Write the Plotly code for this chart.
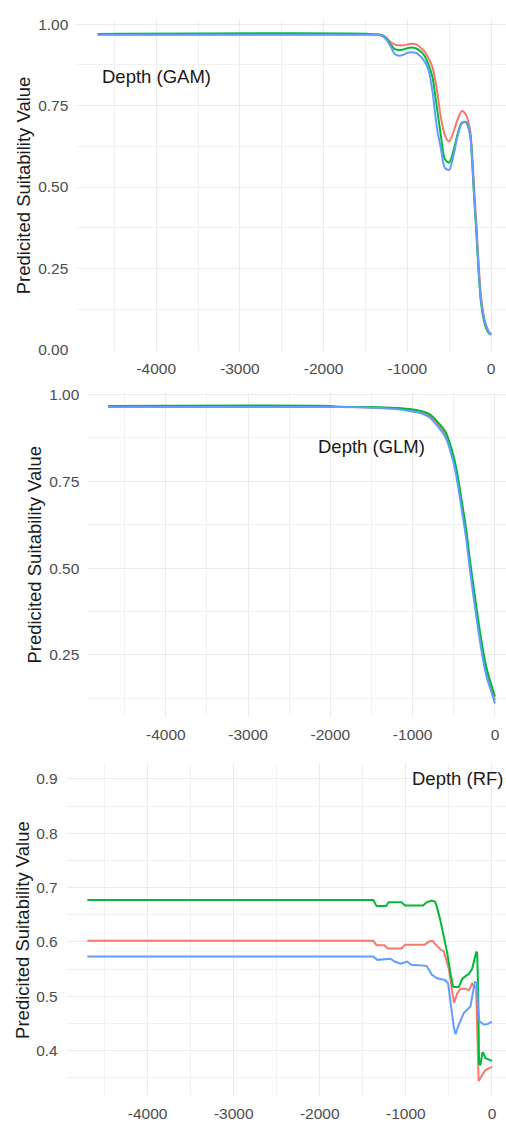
import plotly.graph_objects as go

# ---------------- data ----------------
# GAM panel
gam_depth = [-4700, -1450, -1400, -1350, -1300, -1250, -1200, -1150, -1100, -1050, -1000,
             -950, -900, -850, -800, -750, -700, -650, -600, -550, -500, -450, -400,
             -350, -300, -250, -225, -200, -175, -150, -125, -100, -75, -50, -25, 0]
gam_red = [0.968, 0.968, 0.968, 0.968, 0.966, 0.958, 0.945, 0.937, 0.935, 0.935, 0.937,
           0.940, 0.938, 0.930, 0.918, 0.897, 0.868, 0.805, 0.715, 0.658, 0.640, 0.668, 0.707,
           0.733, 0.722, 0.675, 0.600, 0.490, 0.385, 0.275, 0.180, 0.125, 0.090, 0.070, 0.056, 0.047]
gam_green = [0.970, 0.970, 0.968, 0.968, 0.965, 0.955, 0.938, 0.923, 0.920, 0.922, 0.926,
             0.928, 0.926, 0.918, 0.905, 0.878, 0.838, 0.750, 0.660, 0.585, 0.575, 0.610, 0.662,
             0.697, 0.700, 0.662, 0.578, 0.460, 0.360, 0.248, 0.158, 0.110, 0.080, 0.062, 0.052, 0.047]
gam_blue = [0.967, 0.967, 0.967, 0.967, 0.963, 0.952, 0.932, 0.908, 0.903, 0.906, 0.912,
            0.914, 0.912, 0.903, 0.888, 0.862, 0.795, 0.688, 0.620, 0.558, 0.553, 0.595, 0.655,
            0.695, 0.698, 0.660, 0.580, 0.465, 0.370, 0.255, 0.165, 0.118, 0.088, 0.068, 0.055, 0.047]

# GLM panel
glm_depth = [-4700, -2000, -1900, -1500, -1200, -1000, -900, -800, -700, -600, -500,
             -450, -400, -350, -300, -250, -200, -150, -100, -50, 0]
glm_red = [0.965, 0.965, 0.965, 0.963, 0.960, 0.954, 0.950, 0.940, 0.917, 0.885, 0.810,
           0.750, 0.675, 0.600, 0.500, 0.415, 0.330, 0.255, 0.197, 0.158, 0.120]
glm_green = [0.967, 0.967, 0.965, 0.964, 0.961, 0.957, 0.953, 0.944, 0.922, 0.892, 0.820,
             0.762, 0.688, 0.612, 0.515, 0.430, 0.345, 0.270, 0.210, 0.168, 0.130]
glm_blue = [0.964, 0.964, 0.964, 0.962, 0.958, 0.951, 0.946, 0.935, 0.910, 0.876, 0.800,
            0.738, 0.662, 0.585, 0.487, 0.400, 0.316, 0.243, 0.185, 0.148, 0.110]

# RF panel
rf_red_depth = [-4700, -1380, -1340, -1250, -1210, -1050, -1010, -780, -730, -690, -654,
                -596, -560, -500, -462, -440, -404, -365, -308, -269, -231, -205, -185,
                -175, -165, -155, -135, -77, 0]
rf_red = [0.602, 0.602, 0.594, 0.594, 0.588, 0.588, 0.595, 0.595, 0.601, 0.602, 0.595,
          0.586, 0.583, 0.550, 0.508, 0.488, 0.505, 0.514, 0.514, 0.511, 0.523, 0.517, 0.520,
          0.460, 0.440, 0.344, 0.349, 0.364, 0.370]
rf_green_depth = [-4700, -1380, -1340, -1230, -1200, -1050, -1010, -800, -760, -700, -660,
                  -640, -600, -565, -520, -480, -450, -385, -346, -300, -269, -231, -192,
                  -182, -172, -160, -150, -135, -110, -96, -75, -40, 0]
rf_green = [0.677, 0.677, 0.666, 0.666, 0.673, 0.673, 0.667, 0.667, 0.673, 0.676, 0.674,
            0.665, 0.640, 0.612, 0.580, 0.540, 0.517, 0.517, 0.532, 0.538, 0.541, 0.550, 0.575,
            0.582, 0.580, 0.510, 0.376, 0.373, 0.397, 0.394, 0.386, 0.383, 0.381]
rf_blue_depth = [-4700, -1380, -1330, -1180, -1130, -1060, -985, -934, -760, -700, -640,
                 -546, -510, -481, -442, -423, -385, -327, -250, -200, -175, -162, -146,
                 -96, -50, 0]
rf_blue = [0.573, 0.573, 0.567, 0.569, 0.564, 0.560, 0.564, 0.558, 0.556, 0.540, 0.533,
           0.530, 0.524, 0.487, 0.442, 0.430, 0.448, 0.469, 0.481, 0.526, 0.526, 0.478, 0.454,
           0.448, 0.449, 0.453]

x_ticks = [-4000, -3000, -2000, -1000, 0]
x_tick_labels = ["-4000", "-3000", "-2000", "-1000", "0"]
panel_labels = ["Depth (GAM)", "Depth (GLM)", "Depth (RF)"]
y_title = "Predicited Suitability Value"

RED, GREEN, BLUE = "#F8766D", "#00BA38", "#619CFF"

# ---------------- figure ----------------
W, H = 506, 1129
fig = go.Figure()

def add(x, y, color, ax, shape):
    fig.add_trace(go.Scatter(
        x=x, y=y, mode="lines", xaxis="x" + ax, yaxis="y" + ax,
        line=dict(color=color, width=2, shape=shape, smoothing=0.8 if shape == "spline" else None),
        showlegend=False, hoverinfo="skip"))

add(gam_depth, gam_red, RED, "", "spline")
add(gam_depth, gam_green, GREEN, "", "spline")
add(gam_depth, gam_blue, BLUE, "", "spline")
add(glm_depth, glm_red, RED, "2", "spline")
add(glm_depth, glm_green, GREEN, "2", "spline")
add(glm_depth, glm_blue, BLUE, "2", "spline")
add(rf_red_depth, rf_red, RED, "3", "linear")
add(rf_green_depth, rf_green, GREEN, "3", "linear")
add(rf_blue_depth, rf_blue, BLUE, "3", "linear")

FONT = "Liberation Sans, Arial, sans-serif"
TICKFONT = dict(family=FONT, size=15.5, color="#4D4D4D")
GRID = "#EBEBEB"
MINOR = "#F1F1F1"

def py(p):
    return 1 - p / H

def xaxis(left_px, rng, anchor):
    return dict(domain=[left_px / W, 1], range=rng, anchor=anchor,
                tickmode="array", tickvals=x_ticks, ticktext=x_tick_labels,
                showgrid=True, gridcolor=GRID, gridwidth=1.1, zeroline=False,
                showline=False, ticks="", tickfont=TICKFONT, ticklabelstandoff=7,
                minor=dict(tickmode="linear", tick0=-500, dtick=1000, showgrid=True,
                           gridcolor=MINOR, gridwidth=1, ticks=""))

def yaxis(top_px, bot_px, rng, anchor, dtick, fmt, minor_dtick, tick0):
    return dict(domain=[py(bot_px), py(top_px)], range=rng, anchor=anchor,
                tickmode="linear", tick0=tick0, dtick=dtick, tickformat=fmt,
                showgrid=True, gridcolor=GRID, gridwidth=1.1, zeroline=False,
                showline=False, ticks="", tickfont=TICKFONT, ticklabelstandoff=8,
                minor=dict(tickmode="linear", tick0=tick0 + minor_dtick, dtick=2 * minor_dtick,
                           showgrid=True, gridcolor=MINOR, gridwidth=1, ticks=""))

fig.update_layout(
    width=W, height=H, margin=dict(l=0, r=0, t=0, b=0),
    paper_bgcolor="white", plot_bgcolor="white", showlegend=False,
    font=dict(family=FONT),
    xaxis=xaxis(77.3, [-4943, 179], "y"),
    yaxis=yaxis(12.7, 348.3, [-0.003, 1.014], "x", 0.25, ".2f", 0.125, 0),
    xaxis2=xaxis(88.3, [-4942, 134], "y2"),
    yaxis2=yaxis(391, 718, [0.0735, 1.004], "x2", 0.25, ".2f", 0.125, 0),
    xaxis3=xaxis(66.7, [-4940, 163], "y3"),
    yaxis3=yaxis(767, 1102, [0.3176, 0.9267], "x3", 0.1, ".1f", 0.05, 0),
)

ann = []
ann.append(dict(x=-4000, y=0.84, xref="x", yref="y", text=panel_labels[0]))
ann.append(dict(x=-1500, y=0.85, xref="x2", yref="y2", text=panel_labels[1]))
ann.append(dict(x=-400, y=0.9, xref="x3", yref="y3", text=panel_labels[2]))
for a in ann:
    a.update(showarrow=False, xanchor="center", yanchor="middle",
             font=dict(family=FONT, size=18.5, color="#1A1A1A"))
for xc, yc in [(23, 180.5), (35, 554.5), (23, 934.5)]:
    ann.append(dict(x=xc / W, y=py(yc), xref="paper", yref="paper", text=y_title,
                    textangle=-90, showarrow=False, xanchor="center", yanchor="middle",
                    font=dict(family=FONT, size=18.5, color="#1A1A1A")))
fig.update_layout(annotations=ann)

fig.write_html("out.html")
